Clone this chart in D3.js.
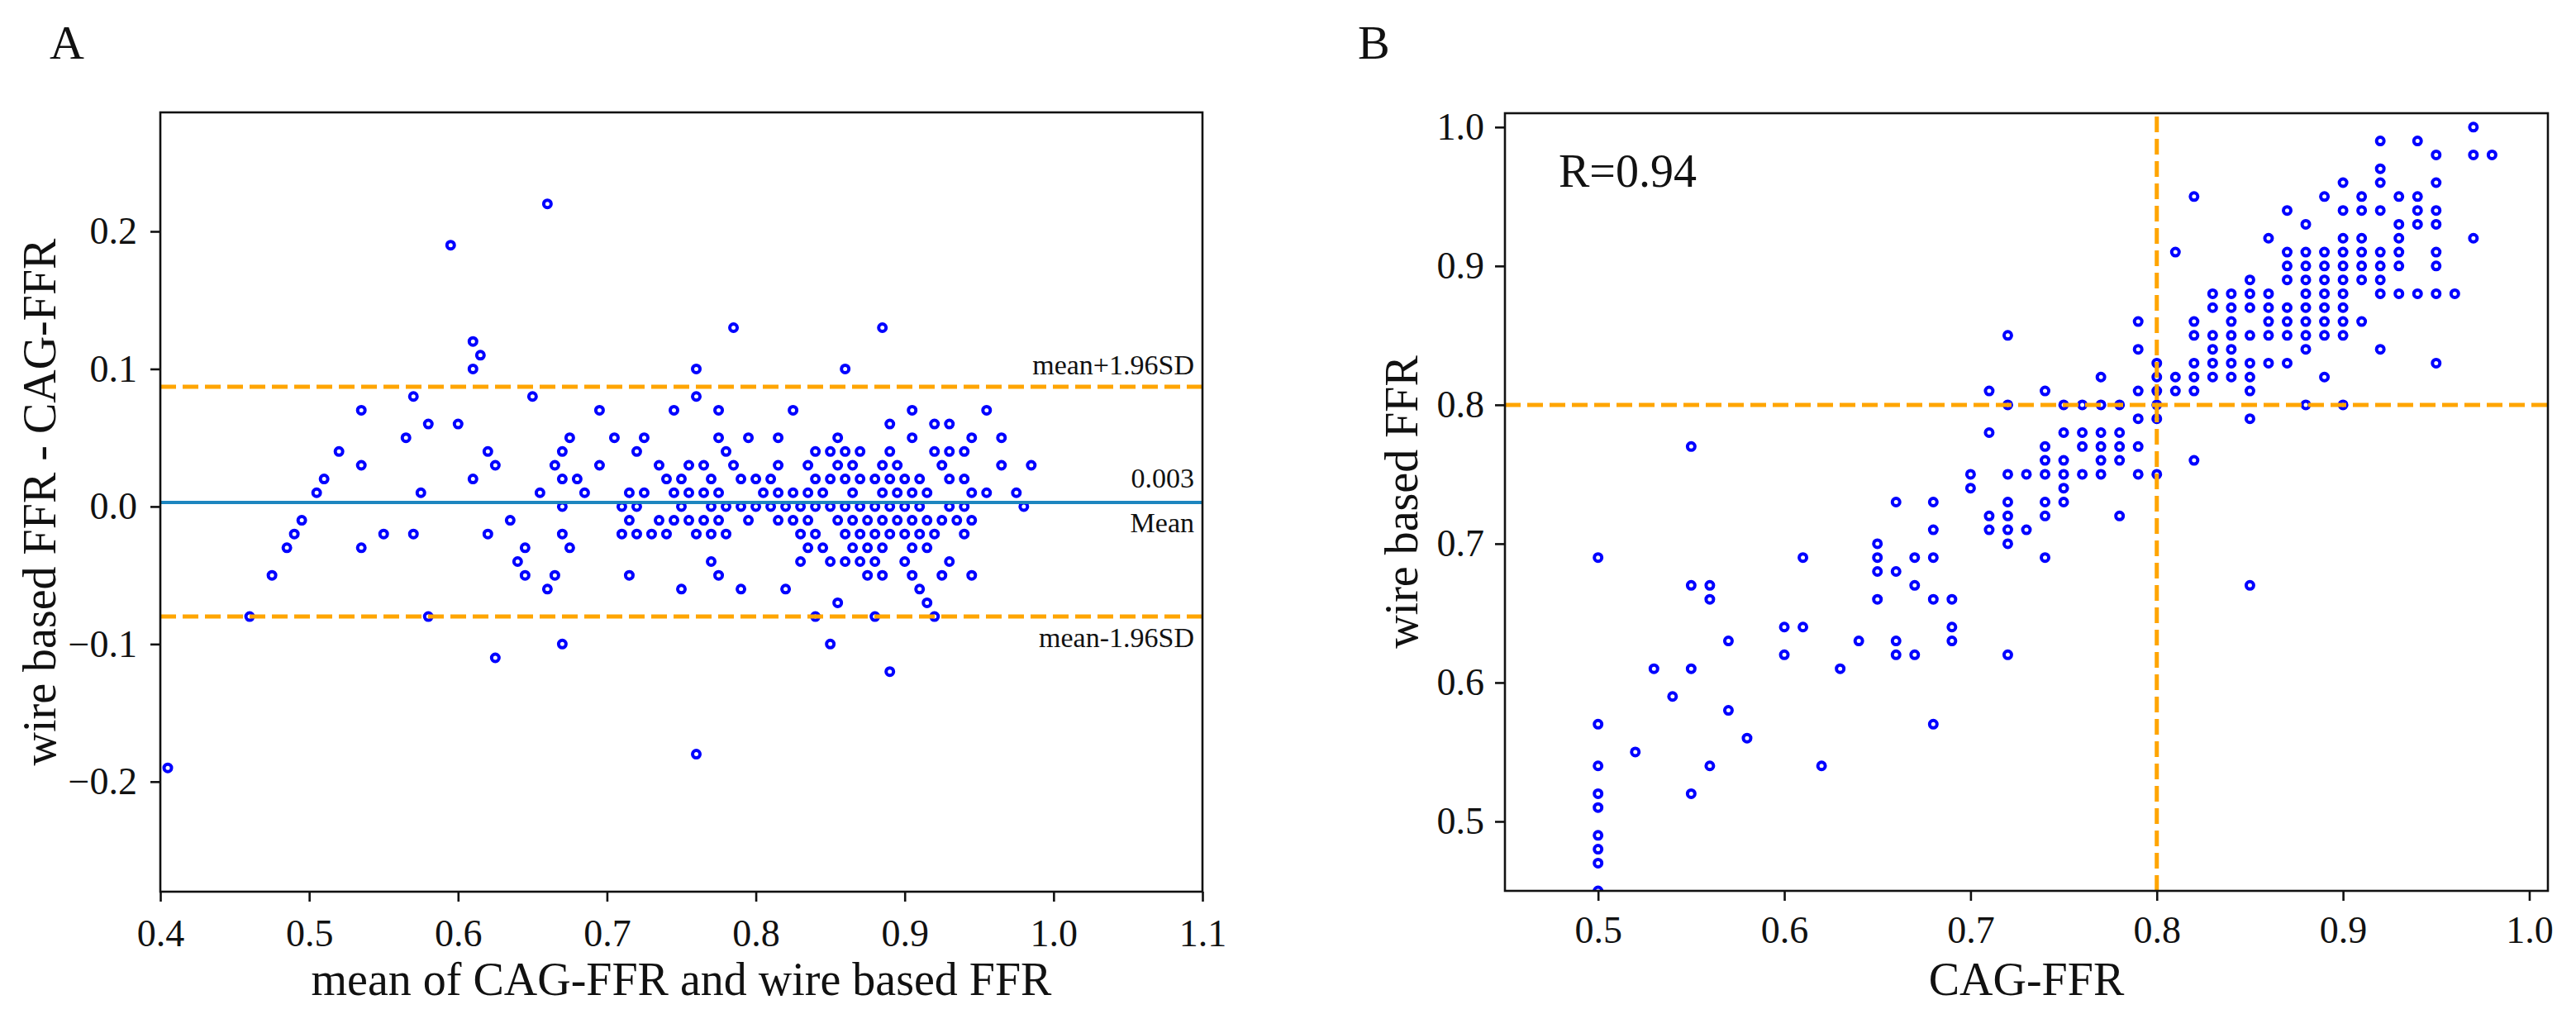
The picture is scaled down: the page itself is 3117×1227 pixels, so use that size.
<!DOCTYPE html>
<html>
<head>
<meta charset="utf-8">
<script src="https://cdn.jsdelivr.net/npm/d3@7"></script>
<style>
  body { margin: 0; background: #fff; }
  svg { display: block; }
  text { font-family: "Liberation Serif", "Times New Roman", serif; fill: #111; }
</style>
</head>
<body>
<svg id="chart" width="3117" height="1227"></svg>
<script>
var width = 3117, height = 1227

// panel A: Bland-Altman, [mean of CAG-FFR and wire FFR, wire FFR - CAG-FFR]
var baPoints = [
  [0.66, 0.22], [0.595, 0.19], [0.61, 0.12], [0.615, 0.11], [0.61, 0.10], [0.57, 0.08], [0.65, 0.08],
  [0.535, 0.07], [0.695, 0.07], [0.58, 0.06], [0.60, 0.06], [0.565, 0.05], [0.675, 0.05], [0.705, 0.05],
  [0.725, 0.05], [0.52, 0.04], [0.62, 0.04], [0.67, 0.04], [0.72, 0.04], [0.535, 0.03], [0.625, 0.03],
  [0.665, 0.03], [0.695, 0.03], [0.735, 0.03], [0.51, 0.02], [0.61, 0.02], [0.67, 0.02], [0.68, 0.02],
  [0.505, 0.01], [0.575, 0.01], [0.655, 0.01], [0.685, 0.01], [0.715, 0.01], [0.725, 0.01],
  [0.67, 0.00], [0.71, 0.00], [0.72, 0.00],
  [0.495, -0.01], [0.49, -0.02], [0.485, -0.03], [0.475, -0.05], [0.46, -0.08], [0.535, -0.03],
  [0.55, -0.02], [0.57, -0.02], [0.58, -0.08], [0.62, -0.02], [0.635, -0.01], [0.64, -0.04],
  [0.645, -0.03], [0.645, -0.05], [0.66, -0.06], [0.665, -0.05], [0.67, -0.02], [0.675, -0.03],
  [0.67, -0.10], [0.625, -0.11], [0.405, -0.19], [0.71, -0.02], [0.715, -0.01], [0.715, -0.05],
  [0.72, -0.02], [0.73, -0.02], [0.735, -0.01],
  [0.785, 0.13], [0.885, 0.13], [0.76, 0.10], [0.86, 0.10], [0.76, 0.08],
  [0.745, 0.07], [0.775, 0.07], [0.825, 0.07], [0.905, 0.07], [0.955, 0.07],
  [0.89, 0.06], [0.92, 0.06], [0.93, 0.06],
  [0.775, 0.05], [0.795, 0.05], [0.815, 0.05], [0.855, 0.05], [0.905, 0.05], [0.945, 0.05], [0.965, 0.05],
  [0.78, 0.04], [0.84, 0.04], [0.85, 0.04], [0.86, 0.04], [0.87, 0.04], [0.89, 0.04], [0.92, 0.04],
  [0.93, 0.04], [0.94, 0.04],
  [0.755, 0.03], [0.765, 0.03], [0.785, 0.03], [0.815, 0.03], [0.835, 0.03], [0.855, 0.03], [0.865, 0.03],
  [0.885, 0.03], [0.895, 0.03], [0.925, 0.03], [0.965, 0.03], [0.985, 0.03],
  [0.74, 0.02], [0.75, 0.02], [0.77, 0.02], [0.79, 0.02], [0.80, 0.02], [0.81, 0.02], [0.84, 0.02],
  [0.85, 0.02], [0.86, 0.02], [0.87, 0.02], [0.88, 0.02], [0.89, 0.02], [0.90, 0.02], [0.91, 0.02],
  [0.93, 0.02], [0.94, 0.02],
  [0.745, 0.01], [0.755, 0.01], [0.765, 0.01], [0.775, 0.01], [0.805, 0.01], [0.815, 0.01], [0.825, 0.01],
  [0.835, 0.01], [0.845, 0.01], [0.865, 0.01], [0.885, 0.01], [0.895, 0.01], [0.905, 0.01], [0.915, 0.01],
  [0.945, 0.01], [0.955, 0.01], [0.975, 0.01],
  [0.75, 0.00], [0.77, 0.00], [0.78, 0.00], [0.79, 0.00], [0.80, 0.00], [0.81, 0.00], [0.82, 0.00],
  [0.83, 0.00], [0.84, 0.00], [0.85, 0.00], [0.86, 0.00], [0.87, 0.00], [0.88, 0.00], [0.89, 0.00],
  [0.90, 0.00], [0.91, 0.00], [0.93, 0.00], [0.94, 0.00], [0.98, 0.00],
  [0.745, -0.01], [0.755, -0.01], [0.765, -0.01], [0.775, -0.01], [0.795, -0.01], [0.815, -0.01],
  [0.825, -0.01], [0.835, -0.01], [0.855, -0.01], [0.865, -0.01], [0.875, -0.01], [0.885, -0.01],
  [0.895, -0.01], [0.905, -0.01], [0.915, -0.01], [0.925, -0.01], [0.935, -0.01], [0.945, -0.01],
  [0.74, -0.02], [0.76, -0.02], [0.77, -0.02], [0.78, -0.02], [0.83, -0.02], [0.84, -0.02], [0.86, -0.02],
  [0.87, -0.02], [0.88, -0.02], [0.89, -0.02], [0.90, -0.02], [0.91, -0.02], [0.92, -0.02], [0.94, -0.02],
  [0.835, -0.03], [0.845, -0.03], [0.865, -0.03], [0.875, -0.03], [0.885, -0.03], [0.905, -0.03], [0.915, -0.03],
  [0.77, -0.04], [0.83, -0.04], [0.85, -0.04], [0.86, -0.04], [0.87, -0.04], [0.88, -0.04], [0.90, -0.04],
  [0.93, -0.04],
  [0.775, -0.05], [0.875, -0.05], [0.885, -0.05], [0.905, -0.05], [0.925, -0.05], [0.945, -0.05],
  [0.75, -0.06], [0.79, -0.06], [0.82, -0.06], [0.91, -0.06],
  [0.855, -0.07], [0.915, -0.07], [0.84, -0.08], [0.88, -0.08], [0.92, -0.08],
  [0.85, -0.10], [0.89, -0.12], [0.76, -0.18]
]

var baMeanDiff = 0.003, baUpper = 0.087, baLower = -0.080
var baXTicks = [0.4, 0.5, 0.6, 0.7, 0.8, 0.9, 1.0, 1.1]
var baYTicks = [-0.2, -0.1, 0.0, 0.1, 0.2]

// panel B: correlation, [CAG-FFR, wire based FFR]
var corrPoints = [
  [0.50, 0.69], [0.50, 0.57], [0.50, 0.54], [0.50, 0.52], [0.50, 0.51], [0.50, 0.49], [0.50, 0.48],
  [0.50, 0.47], [0.50, 0.45], [0.52, 0.55], [0.53, 0.61], [0.54, 0.59],
  [0.55, 0.77], [0.55, 0.67], [0.55, 0.61], [0.55, 0.52], [0.56, 0.67], [0.56, 0.66], [0.56, 0.54],
  [0.57, 0.63], [0.57, 0.58], [0.58, 0.56], [0.60, 0.64], [0.60, 0.62], [0.61, 0.69], [0.61, 0.64],
  [0.62, 0.54], [0.63, 0.61], [0.64, 0.63],
  [0.65, 0.70], [0.65, 0.69], [0.65, 0.68], [0.65, 0.66], [0.66, 0.73], [0.66, 0.68], [0.66, 0.63],
  [0.66, 0.62], [0.67, 0.69], [0.67, 0.67], [0.67, 0.62],
  [0.68, 0.73], [0.68, 0.71], [0.68, 0.69], [0.68, 0.66], [0.68, 0.57], [0.69, 0.66], [0.69, 0.64],
  [0.69, 0.63], [0.70, 0.75], [0.70, 0.74],
  [0.71, 0.81], [0.71, 0.78], [0.71, 0.72], [0.71, 0.71],
  [0.72, 0.85], [0.72, 0.80], [0.72, 0.75], [0.72, 0.73], [0.72, 0.72], [0.72, 0.71], [0.72, 0.70], [0.72, 0.62],
  [0.73, 0.75], [0.73, 0.71],
  [0.74, 0.81], [0.74, 0.77], [0.74, 0.76], [0.74, 0.75], [0.74, 0.73], [0.74, 0.72], [0.74, 0.69],
  [0.75, 0.80], [0.75, 0.78], [0.75, 0.76], [0.75, 0.75], [0.75, 0.74], [0.75, 0.73],
  [0.76, 0.80], [0.76, 0.78], [0.76, 0.77], [0.76, 0.75],
  [0.77, 0.82], [0.77, 0.80], [0.77, 0.78], [0.77, 0.77], [0.77, 0.76], [0.77, 0.75],
  [0.78, 0.80], [0.78, 0.78], [0.78, 0.77], [0.78, 0.76], [0.78, 0.72],
  [0.79, 0.86], [0.79, 0.84], [0.79, 0.81], [0.79, 0.79], [0.79, 0.77], [0.79, 0.75],
  [0.80, 0.83], [0.80, 0.82], [0.80, 0.81], [0.80, 0.80], [0.80, 0.79], [0.80, 0.75],
  [0.81, 0.91], [0.81, 0.82], [0.81, 0.81],
  [0.82, 0.95], [0.82, 0.86], [0.82, 0.85], [0.82, 0.83], [0.82, 0.82], [0.82, 0.81], [0.82, 0.76],
  [0.83, 0.88], [0.83, 0.87], [0.83, 0.85], [0.83, 0.84], [0.83, 0.83], [0.83, 0.82],
  [0.84, 0.88], [0.84, 0.87], [0.84, 0.86], [0.84, 0.85], [0.84, 0.84], [0.84, 0.83], [0.84, 0.82],
  [0.85, 0.89], [0.85, 0.88], [0.85, 0.87], [0.85, 0.85], [0.85, 0.83], [0.85, 0.82], [0.85, 0.81],
  [0.85, 0.79], [0.85, 0.67],
  [0.86, 0.92], [0.86, 0.88], [0.86, 0.87], [0.86, 0.86], [0.86, 0.85], [0.86, 0.83],
  [0.87, 0.94], [0.87, 0.91], [0.87, 0.90], [0.87, 0.89], [0.87, 0.87], [0.87, 0.86], [0.87, 0.85], [0.87, 0.83],
  [0.88, 0.93], [0.88, 0.91], [0.88, 0.90], [0.88, 0.89], [0.88, 0.88], [0.88, 0.87], [0.88, 0.86],
  [0.88, 0.85], [0.88, 0.84], [0.88, 0.80],
  [0.89, 0.95], [0.89, 0.91], [0.89, 0.90], [0.89, 0.89], [0.89, 0.88], [0.89, 0.87], [0.89, 0.86],
  [0.89, 0.85], [0.89, 0.82],
  [0.90, 0.96], [0.90, 0.94], [0.90, 0.92], [0.90, 0.91], [0.90, 0.90], [0.90, 0.89], [0.90, 0.88],
  [0.90, 0.87], [0.90, 0.86], [0.90, 0.85], [0.90, 0.80],
  [0.91, 0.95], [0.91, 0.94], [0.91, 0.92], [0.91, 0.91], [0.91, 0.90], [0.91, 0.89], [0.91, 0.86],
  [0.92, 0.99], [0.92, 0.97], [0.92, 0.96], [0.92, 0.94], [0.92, 0.91], [0.92, 0.90], [0.92, 0.89],
  [0.92, 0.88], [0.92, 0.84],
  [0.93, 0.95], [0.93, 0.93], [0.93, 0.92], [0.93, 0.91], [0.93, 0.90], [0.93, 0.88],
  [0.94, 0.99], [0.94, 0.95], [0.94, 0.94], [0.94, 0.93], [0.94, 0.88],
  [0.95, 0.98], [0.95, 0.96], [0.95, 0.94], [0.95, 0.93], [0.95, 0.91], [0.95, 0.90], [0.95, 0.88], [0.95, 0.83],
  [0.96, 0.88], [0.97, 1.00], [0.97, 0.98], [0.97, 0.92], [0.98, 0.98]
]

var corrCutoff = 0.8
var corrR = 'R=0.94'
var corrTicks = [0.5, 0.6, 0.7, 0.8, 0.9, 1.0]

var svg = d3.select('#chart')
var fmt = d3.format('.1f')

function drawPanel(opts) {
  var x = opts.x, y = opts.y
  var x0 = x.range()[0], x1 = x.range()[1]
  var y0 = y.range()[0], y1 = y.range()[1]
  var g = svg.append('g')

  g.append('clipPath').attr('id', opts.id + '-clip')
    .append('rect')
    .attr('x', x0).attr('y', y1)
    .attr('width', x1 - x0).attr('height', y0 - y1)

  g.append('g')
    .attr('clip-path', 'url(#' + opts.id + '-clip)')
    .selectAll('circle')
    .data(opts.points)
    .enter()
    .append('circle')
    .attr('cx', function(d) { return x(d[0]) })
    .attr('cy', function(d) { return y(d[1]) })
    .attr('r', 4.5)
    .attr('fill', 'none')
    .attr('stroke', '#0000ff')
    .attr('stroke-width', 4)

  var lines = g.append('g').attr('clip-path', 'url(#' + opts.id + '-clip)')
  opts.hlines.forEach(function(l) {
    lines.append('line')
      .attr('x1', x0).attr('x2', x1)
      .attr('y1', y(l.v)).attr('y2', y(l.v))
      .attr('stroke', l.color)
      .attr('stroke-width', l.w)
      .attr('stroke-dasharray', l.dash || null)
  })
  ;(opts.vlines || []).forEach(function(l) {
    lines.append('line')
      .attr('y1', y0).attr('y2', y1)
      .attr('x1', x(l.v)).attr('x2', x(l.v))
      .attr('stroke', l.color)
      .attr('stroke-width', l.w)
      .attr('stroke-dasharray', l.dash || null)
  })

  var xAxis = g.append('g')
    .attr('transform', 'translate(0,' + y0 + ')')
    .call(d3.axisBottom(x).tickValues(opts.xTicks).tickFormat(fmt)
      .tickSize(12).tickSizeOuter(0).tickPadding(opts.xPad))
  var yAxis = g.append('g')
    .attr('transform', 'translate(' + x0 + ',0)')
    .call(d3.axisLeft(y).tickValues(opts.yTicks).tickFormat(fmt)
      .tickSize(12).tickSizeOuter(0).tickPadding(opts.yPad))

  ;[xAxis, yAxis].forEach(function(a) {
    a.select('.domain').remove()
    a.selectAll('.tick line').attr('stroke', '#111').attr('stroke-width', 2.6)
    a.selectAll('.tick text')
      .attr('fill', '#111')
      .style('font-family', '"Liberation Serif", "Times New Roman", serif')
      .style('font-size', '46px')
  })

  g.append('rect')
    .attr('x', x0).attr('y', y1)
    .attr('width', x1 - x0).attr('height', y0 - y1)
    .attr('fill', 'none')
    .attr('stroke', '#111')
    .attr('stroke-width', 2.6)

  g.append('text')
    .attr('x', (x0 + x1) / 2).attr('y', 1185)
    .attr('text-anchor', 'middle')
    .attr('dominant-baseline', 'central')
    .style('font-size', '56px')
    .text(opts.xLabel)

  g.append('text')
    .attr('transform', 'translate(' + opts.yLabelX + ',' + (y0 + y1) / 2 + ') rotate(-90)')
    .attr('text-anchor', 'middle')
    .attr('dominant-baseline', 'central')
    .style('font-size', '56px')
    .text(opts.yLabel)

  g.append('text')
    .attr('x', opts.letterX).attr('y', 71)
    .style('font-size', '58px')
    .text(opts.letter)

  return g
}

// panel A
var xA = d3.scaleLinear().domain([0.4, 1.1]).range([194, 1455])
var yA = d3.scaleLinear().domain([-0.28, 0.2865]).range([1079, 136])

var gA = drawPanel({
  id: 'pa', x: xA, y: yA, points: baPoints,
  xTicks: baXTicks, yTicks: baYTicks, xPad: 21, yPad: 16,
  hlines: [
    {v: baUpper, color: '#ffa500', w: 5, dash: '19 8'},
    {v: baLower, color: '#ffa500', w: 5, dash: '19 8'},
    {v: baMeanDiff, color: '#1d86bf', w: 4}
  ],
  xLabel: 'mean of CAG-FFR and wire based FFR',
  yLabel: 'wire based FFR - CAG-FFR', yLabelX: 48,
  letter: 'A', letterX: 60
})

var notes = [
  {t: 'mean+1.96SD', y: yA(baUpper) - 15},
  {t: d3.format('.3f')(baMeanDiff), y: yA(baMeanDiff) - 18},
  {t: 'Mean', y: yA(baMeanDiff) + 36},
  {t: 'mean-1.96SD', y: yA(baLower) + 37}
]
gA.selectAll('.note')
  .data(notes)
  .enter()
  .append('text')
  .attr('class', 'note')
  .attr('x', 1445)
  .attr('y', function(d) { return d.y })
  .attr('text-anchor', 'end')
  .style('font-size', '34px')
  .text(function(d) { return d.t })

// panel B
var xB = d3.scaleLinear().domain([0.45, 1.01]).range([1821, 3083])
var yB = d3.scaleLinear().domain([0.45, 1.01]).range([1078, 137])

var gB = drawPanel({
  id: 'pb', x: xB, y: yB, points: corrPoints,
  xTicks: corrTicks, yTicks: corrTicks, xPad: 18, yPad: 13,
  hlines: [{v: corrCutoff, color: '#ffa500', w: 5, dash: '19 8'}],
  vlines: [{v: corrCutoff, color: '#ffa500', w: 5, dash: '19 8'}],
  xLabel: 'CAG-FFR',
  yLabel: 'wire based FFR', yLabelX: 1696,
  letter: 'B', letterX: 1643
})

gB.append('text')
  .attr('x', 1886).attr('y', 226)
  .style('font-size', '56px')
  .text(corrR)
</script>
</body>
</html>
